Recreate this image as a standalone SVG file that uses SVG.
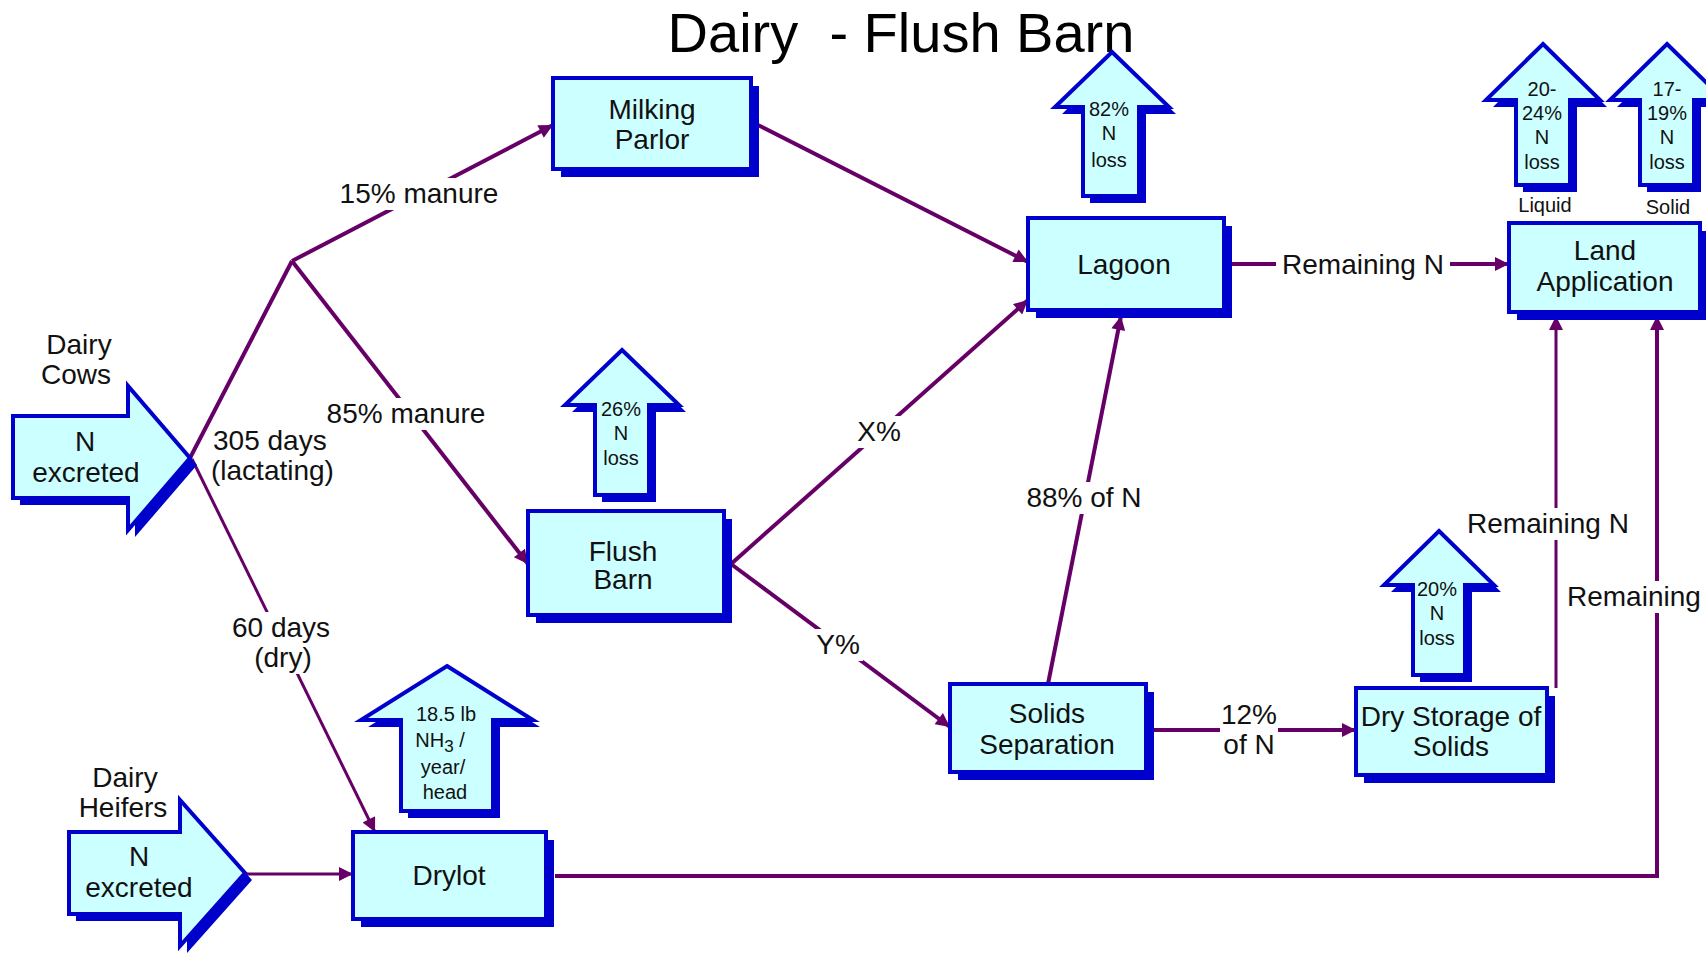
<svg xmlns="http://www.w3.org/2000/svg" width="1706" height="953" viewBox="0 0 1706 953">
<defs>
<marker id="ah" viewBox="0 0 10 10" markerWidth="21" markerHeight="14" refX="10" refY="5" orient="auto" markerUnits="userSpaceOnUse">
<path d="M0,0 L10,5 L0,10 z" fill="#660066"/>
</marker>
<style>
.box{fill:#CCFFFF;stroke:#0000CC;stroke-width:4}
.sh{fill:#0000CC}
.t{font-family:"Liberation Sans",Arial,sans-serif;font-size:28px;fill:#111;text-anchor:middle}
.s{font-family:"Liberation Sans",Arial,sans-serif;font-size:20px;fill:#111;text-anchor:middle}
.ttl{font-family:"Liberation Sans",Arial,sans-serif;font-size:56px;fill:#000;text-anchor:middle}
.c{fill:none;stroke:#660066;stroke-width:4}
.c3{fill:none;stroke:#660066;stroke-width:3}
.bg{fill:#fff}
</style>
</defs>
<rect width="1706" height="953" fill="#fff"/>
<text class="ttl" x="901" y="52" xml:space="preserve">Dairy  - Flush Barn</text>

<g id="connectors">
<path class="c" d="M190,458 L292,261"/>
<path class="c" d="M292,261 L553,125" marker-end="url(#ah)"/>
<path class="c" d="M292,261 L528,564" marker-end="url(#ah)"/>
<path class="c3" d="M192,459 L375,832" marker-end="url(#ah)"/>
<path class="c" d="M758,125 L1028,262" marker-end="url(#ah)"/>
<path class="c" d="M731,564 L1028,300" marker-end="url(#ah)"/>
<path class="c" d="M731,564 L950,727" marker-end="url(#ah)"/>
<path class="c" d="M1048,684 L1121,316" marker-end="url(#ah)"/>
<path class="c" d="M1232,264 L1509,264" marker-end="url(#ah)"/>
<path class="c" d="M1153,730 L1356,730" marker-end="url(#ah)"/>
<path class="c3" d="M1556,688 L1556,316" marker-end="url(#ah)"/>
<path class="c" d="M555,876 L1657,876 L1657,316" marker-end="url(#ah)"/>
<path class="c3" d="M245,874 L353,874" marker-end="url(#ah)"/>
<rect class="bg" x="338" y="178" width="162" height="32"/>
<text class="t" x="419" y="203">15% manure</text>
<rect class="bg" x="325" y="398" width="162" height="32"/>
<text class="t" x="406" y="423">85% manure</text>
<text class="t" x="213" y="450" style="text-anchor:start">305 days</text>
<text class="t" x="211" y="480" style="text-anchor:start">(lactating)</text>
<rect class="bg" x="232" y="612" width="100" height="62"/>
<text class="t" x="281" y="637">60 days</text>
<text class="t" x="283" y="667">(dry)</text>
<rect class="bg" x="854" y="416" width="50" height="32"/>
<text class="t" x="879" y="441">X%</text>
<rect class="bg" x="813" y="629" width="50" height="32"/>
<text class="t" x="838" y="654">Y%</text>
<rect class="bg" x="1024" y="482" width="120" height="32"/>
<text class="t" x="1084" y="507">88% of N</text>
<rect class="bg" x="1276" y="249" width="174" height="32"/>
<text class="t" x="1363" y="274">Remaining N</text>
<rect class="bg" x="1220" y="699" width="58" height="62"/>
<text class="t" x="1249" y="724">12%</text>
<text class="t" x="1249" y="754">of N</text>
<rect class="bg" x="1466" y="508" width="166" height="32"/>
<text class="t" x="1548" y="533">Remaining N</text>
<rect class="bg" x="1564" y="581" width="142" height="32"/>
<text class="t" x="1567" y="606" style="text-anchor:start">Remaining</text>
</g>

<g id="dairy-cows">
<polygon class="sh" points="20,423 135,423 135,393 197,465 135,537 135,505 20,505"/>
<polygon class="box" points="13,416 128,416 128,386 190,458 128,530 128,498 13,498"/>
<text class="t" x="85" y="451">N</text>
<text class="t" x="86" y="482">excreted</text>
<text class="t" x="79" y="354">Dairy</text>
<text class="t" x="76" y="384">Cows</text>
</g>

<g id="dairy-heifers">
<polygon class="sh" points="76,839 187,839 187,807 252,880 187,953 187,921 76,921"/>
<polygon class="box" points="69,832 180,832 180,800 245,873 180,946 180,914 69,914"/>
<text class="t" x="139" y="866">N</text>
<text class="t" x="139" y="897">excreted</text>
<text class="t" x="125" y="787">Dairy</text>
<text class="t" x="123" y="817">Heifers</text>
</g>

<g id="milking-parlor">
<rect class="sh" x="561" y="86" width="198" height="91"/>
<rect class="box" x="553" y="78" width="198" height="91"/>
<text class="t" x="652" y="119">Milking</text>
<text class="t" x="652" y="149">Parlor</text>
</g>

<g id="lagoon">
<rect class="sh" x="1036" y="226" width="196" height="92"/>
<rect class="box" x="1028" y="218" width="196" height="92"/>
<text class="t" x="1124" y="274">Lagoon</text>
</g>

<g id="land-application">
<rect class="sh" x="1517" y="231" width="191" height="89"/>
<rect class="box" x="1509" y="223" width="191" height="89"/>
<text class="t" x="1605" y="260">Land</text>
<text class="t" x="1605" y="291">Application</text>
</g>

<g id="flush-barn">
<rect class="sh" x="536" y="519" width="196" height="104"/>
<rect class="box" x="528" y="511" width="196" height="104"/>
<text class="t" x="623" y="561">Flush</text>
<text class="t" x="623" y="589">Barn</text>
</g>

<g id="solids-separation">
<rect class="sh" x="958" y="692" width="196" height="88"/>
<rect class="box" x="950" y="684" width="196" height="88"/>
<text class="t" x="1047" y="723">Solids</text>
<text class="t" x="1047" y="754">Separation</text>
</g>

<g id="dry-storage">
<rect class="sh" x="1364" y="696" width="191" height="87"/>
<rect class="box" x="1356" y="688" width="191" height="87"/>
<text class="t" x="1451" y="726">Dry Storage of</text>
<text class="t" x="1451" y="756">Solids</text>
</g>

<g id="drylot">
<rect class="sh" x="361" y="840" width="193" height="87"/>
<rect class="box" x="353" y="832" width="193" height="87"/>
<text class="t" x="449" y="885">Drylot</text>
</g>

<g id="loss-flush-barn">
<polygon class="sh" points="629,357 686,412 656,412 656,502 602,502 602,412 572,412"/>
<polygon class="box" points="622,350 679,405 649,405 649,495 595,495 595,405 565,405"/>
<text class="s" x="621" y="416">26%</text>
<text class="s" x="621" y="440">N</text>
<text class="s" x="621" y="465">loss</text>
</g>

<g id="loss-lagoon">
<polygon class="sh" points="1119,59 1176,114 1146,114 1146,203 1090,203 1090,114 1062,114"/>
<polygon class="box" points="1112,52 1169,107 1139,107 1139,196 1083,196 1083,107 1055,107"/>
<text class="s" x="1109" y="116">82%</text>
<text class="s" x="1109" y="140">N</text>
<text class="s" x="1109" y="167">loss</text>
</g>

<g id="loss-liquid">
<polygon class="sh" points="1550,51 1607,107 1577,107 1577,192 1523,192 1523,107 1493,107"/>
<polygon class="box" points="1543,44 1600,100 1570,100 1570,185 1516,185 1516,100 1486,100"/>
<text class="s" x="1542" y="96">20-</text>
<text class="s" x="1542" y="120">24%</text>
<text class="s" x="1542" y="144">N</text>
<text class="s" x="1542" y="169">loss</text>
<text class="s" x="1545" y="212">Liquid</text>
</g>

<g id="loss-solid">
<polygon class="sh" points="1674,51 1731,107 1701,107 1701,192 1647,192 1647,107 1617,107"/>
<polygon class="box" points="1667,44 1724,100 1694,100 1694,185 1640,185 1640,100 1610,100"/>
<text class="s" x="1667" y="96">17-</text>
<text class="s" x="1667" y="120">19%</text>
<text class="s" x="1667" y="144">N</text>
<text class="s" x="1667" y="169">loss</text>
<text class="s" x="1668" y="214">Solid</text>
</g>

<g id="loss-drylot">
<polygon class="sh" points="454,673 540,727 500,727 500,818 408,818 408,727 368,727"/>
<polygon class="box" points="447,666 533,720 493,720 493,811 401,811 401,720 361,720"/>
<text class="s" x="446" y="721">18.5 lb</text>
<text class="s" x="440" y="747">NH<tspan dy="5" font-size="17">3</tspan><tspan dy="-5"> /</tspan></text>
<text class="s" x="443" y="774">year/</text>
<text class="s" x="445" y="799">head</text>
</g>

<g id="loss-dry-storage">
<polygon class="sh" points="1446,538 1501,592 1472,592 1472,682 1420,682 1420,592 1391,592"/>
<polygon class="box" points="1439,531 1494,585 1465,585 1465,675 1413,675 1413,585 1384,585"/>
<text class="s" x="1437" y="596">20%</text>
<text class="s" x="1437" y="620">N</text>
<text class="s" x="1437" y="645">loss</text>
</g>
</svg>
